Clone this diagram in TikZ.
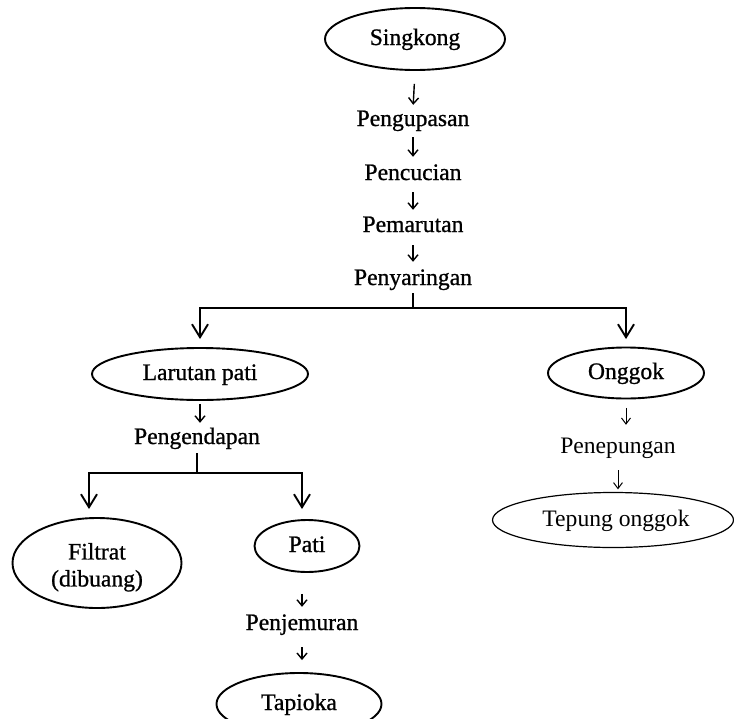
\documentclass[tikz,border=0pt]{standalone}
\usepackage{fontspec}
\setmainfont{Liberation Serif}
\newfontfamily\heavyfont{Liberation Serif}[FakeBold=0.9]
\usetikzlibrary{shapes.geometric,arrows.meta}
\begin{document}
\begin{tikzpicture}[x=1pt,y=-1pt,
  every node/.style={font=\heavyfont\fontsize{23.6}{27}\selectfont},
  lightfont/.style={font=\rmfamily\fontsize{23.6}{27}\selectfont},
  stepbox/.style={inner sep=0pt,text height=17pt,text depth=5pt,anchor=base},
  oval/.style={ellipse,draw,line width=1.9pt,inner sep=0pt,text height=17pt,text depth=5pt},
  smallarrow/.style={line width=1.4pt,-{Straight Barb[length=6pt,width=10pt,line width=1.4pt]},shorten <=7pt,shorten >=5pt},
  thinarrow/.style={line width=1pt,-{Straight Barb[length=6pt,width=9pt,line width=1pt]}},
  bigarrow/.style={line width=1.9pt,-{Straight Barb[length=13pt,width=16pt,line width=1.9pt]}},
  plainline/.style={line width=1.9pt}]
\useasboundingbox (0,0) rectangle (734,718);

\node[oval,minimum width=180pt,minimum height=62pt] (singkong) at (415,39) {Singkong};
\node[stepbox] (pengupasan) at (413,126) {Pengupasan};
\node[stepbox] (pencucian) at (413,180) {Pencucian};
\node[stepbox] (pemarutan) at (413,232) {Pemarutan};
\node[stepbox] (penyaringan) at (413,285) {Penyaringan};

\node[oval,minimum width=216pt,minimum height=52pt] (larutan) at (200,374) {Larutan pati};
\node[oval,minimum width=156pt,minimum height=51pt] (onggok) at (626,373) {Onggok};

\node[stepbox] (pengendapan) at (197,444) {Pengendapan};
\node[ellipse,draw,line width=1.9pt,inner sep=0pt,align=center,minimum width=169pt,minimum height=90pt] (filtrat) at (97,563) {\rule{0pt}{25pt}Filtrat\\(dibuang)};
\node[oval,minimum width=105pt,minimum height=52pt] (pati) at (307,546) {Pati};
\node[stepbox] (penjemuran) at (302,630) {Penjemuran};
\node[oval,minimum width=165pt,minimum height=62pt] (tapioka) at (299,704) {Tapioka};

\node[stepbox,lightfont] (penepungan) at (618,453) {Penepungan};
\node[ellipse,draw,line width=1.2pt,inner sep=0pt,text height=17pt,text depth=5pt,minimum width=241pt,minimum height=55pt,lightfont] (tepung) at (613,520) {\hspace*{6pt}Tepung onggok};

\coordinate (j1) at (413,308);
\coordinate (j2) at (197,473);

\draw[smallarrow,shorten <=13pt,shorten >=4pt] (singkong.south) -- (pengupasan.north);
\draw[smallarrow,shorten <=6pt,shorten >=6pt] (pengupasan.south) -- (pencucian.north);
\draw[smallarrow] (pencucian.south) -- (pemarutan.north);
\draw[smallarrow,shorten <=8pt,shorten >=6pt] (pemarutan.south) -- (penyaringan.north);

\draw[plainline,shorten <=3pt] (penyaringan.south) -- (j1);
\draw[bigarrow,shorten >=8pt] (j1) -| (larutan.north);
\draw[bigarrow,shorten >=7.5pt] (j1) -| (onggok.north);

\draw[smallarrow,shorten <=3pt,shorten >=4pt] (larutan.south) -- (larutan.south |- pengendapan.north);
\draw[plainline,shorten <=4pt] (pengendapan.south) -- (j2);
\draw[bigarrow,shorten >=8pt] (j2) -| ([xshift=-8pt]filtrat.north);
\draw[bigarrow,shorten >=10pt] (j2) -| ([xshift=-5pt]pati.north);

\draw[smallarrow,shorten <=21pt,shorten >=6pt] (penjemuran.north |- pati.south) -- (penjemuran.north);
\draw[smallarrow,shorten <=12pt,shorten >=12pt] (penjemuran.south) -- (penjemuran.south |- tapioka.north);

\draw[thinarrow,shorten <=8.5pt,shorten >=11pt] (onggok.south) -- (onggok.south |- penepungan.north);
\draw[thinarrow,shorten <=12pt,shorten >=2.5pt] (penepungan.south) -- (penepungan.south |- tepung.north);
\end{tikzpicture}
\end{document}
